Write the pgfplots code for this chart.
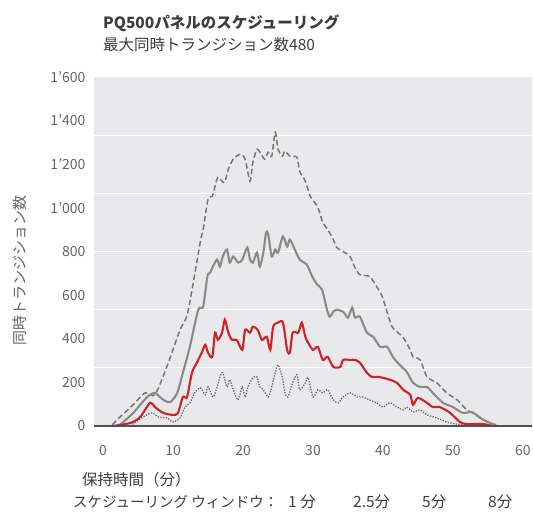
\documentclass[border=0pt]{standalone}
\usepackage{fontspec}
\usepackage{pgfplots}
\usepackage{pgfplotstable}
\pgfplotsset{compat=1.18}
\setmainfont{Noto Sans CJK JP}
\definecolor{bg}{RGB}{233,233,235}
\definecolor{txt}{RGB}{100,100,100}
\definecolor{ttl}{RGB}{60,60,60}
\definecolor{redl}{RGB}{204,34,40}
\definecolor{grayl}{RGB}{138,138,138}
\definecolor{dashl}{RGB}{118,118,118}
\definecolor{dotl}{RGB}{105,105,105}
\definecolor{axl}{RGB}{80,80,80}

\pgfplotstableread{
x y
1.3 5
2.4 41
4.3 97
6.0 152
7.4 143
9.1 271
11.0 441
12.1 520
13.9 845
14.3 901
15.0 1039
15.6 1053
16.0 1099
16.4 1140
17.0 1122
17.4 1117
17.9 1177
18.6 1223
19.6 1246
20.3 1223
21.0 1122
21.4 1209
22.0 1269
22.4 1255
23.1 1223
23.6 1255
24.1 1237
24.6 1347
25.0 1269
25.6 1237
26.0 1260
26.7 1237
27.7 1232
28.1 1168
28.9 1122
29.6 1053
29.9 1039
30.7 1002
31.4 933
32.1 901
32.9 855
33.4 818
34.3 800
35.3 777
36.0 726
36.7 694
38.1 685
39.1 639
39.9 593
40.6 520
41.3 455
42.0 432
42.9 405
43.9 349
44.3 317
45.3 303
46.3 225
47.7 198
49.1 152
50.6 120
52.0 74
53.4 51
54.9 18
56.3 5
}\dashdata

\pgfplotstableread{
x y
2.4 5
4.3 60
6.3 133
7.4 152
8.1 133
8.6 120
9.6 110
10.6 152
11.4 244
12.4 363
13.6 533
14.3 547
14.9 685
15.3 703
15.7 731
16.3 763
16.7 731
17.1 777
17.7 809
18.1 749
18.6 777
19.3 749
19.9 763
20.6 818
21.0 763
21.4 749
22.0 795
22.4 731
22.9 795
23.3 887
23.6 878
24.1 777
24.6 809
25.0 795
25.7 869
26.3 823
26.7 855
27.4 809
28.1 763
29.1 740
29.9 685
30.6 648
31.3 625
32.0 533
32.4 501
32.9 524
33.4 533
34.3 524
35.0 497
35.6 543
36.0 497
36.7 501
37.7 428
38.6 409
39.6 363
40.6 363
41.4 317
42.4 280
43.4 248
44.3 198
45.3 179
46.3 179
47.1 152
48.6 106
50.0 87
51.4 60
52.7 64
53.9 37
55.3 14
56.3 0
}\soliddata

\pgfplotstableread{
x y
1.4 0
3.9 14
5.3 41
6.7 106
7.4 87
8.6 60
10.0 51
10.7 60
11.4 133
12.0 133
12.7 244
13.4 290
14.1 336
14.6 372
15.0 336
15.6 317
16.0 428
16.4 395
17.0 428
17.4 487
17.9 428
18.4 395
19.1 395
19.9 349
20.3 441
21.0 428
21.4 455
22.1 441
22.7 395
23.4 409
23.9 349
24.3 455
25.0 474
25.7 474
26.3 349
26.7 336
27.1 428
27.9 428
28.4 474
28.9 409
29.3 382
30.0 349
30.7 363
31.4 303
32.1 317
32.9 271
33.9 271
34.3 303
35.3 303
36.0 303
36.7 290
37.7 244
38.4 225
39.3 225
40.0 221
41.0 212
42.0 198
42.9 166
43.9 143
44.3 97
45.0 129
46.3 106
47.1 87
48.1 87
49.6 60
51.0 18
52.0 9
54.3 9
55.6 0
}\reddata

\pgfplotstableread{
x y
3.9 0
5.7 41
7.0 60
7.9 41
9.1 37
10.0 18
11.0 37
11.7 87
12.4 106
13.1 152
13.9 175
14.6 143
15.0 179
15.7 133
16.3 179
16.7 225
17.1 244
17.7 179
18.1 212
18.6 166
19.3 120
19.9 179
20.3 133
20.7 179
21.4 221
22.0 225
22.4 179
22.9 166
23.6 133
24.1 179
24.6 244
25.0 280
25.6 225
26.0 152
26.4 133
27.1 198
27.7 235
28.1 166
28.9 198
29.3 221
30.0 133
30.7 166
31.4 152
32.1 166
32.9 120
33.6 106
34.3 133
35.3 152
36.3 133
37.1 133
38.1 120
39.1 106
40.0 87
41.0 106
42.0 87
42.9 74
43.4 87
44.3 64
45.3 74
46.3 51
47.7 37
49.1 18
50.6 9
52.0 5
53.4 0
}\dotdata

\begin{document}
\begin{tikzpicture}[x=1pt,y=1pt]
\useasboundingbox (0,0) rectangle (533,-516);
\node[anchor=west, text=ttl, font=\fontsize{15.5}{18}\selectfont\bfseries, inner sep=0] at (103,-23) {PQ500パネルのスケジューリング};
\node[anchor=west, text=ttl, font=\fontsize{15.5}{18}\selectfont, inner sep=0] at (103,-45) {最大同時トランジション数480};
\begin{axis}[
  at={(94pt,-426pt)}, anchor=south west,
  scale only axis, width=438pt, height=349pt,
  xmin=-1.3, xmax=61.3, ymin=0, ymax=1600,
  axis background/.style={fill=bg},
  axis line style={draw=none},
  major tick length=0pt,
  xtick={0,10,20,30,40,50,60},
  xticklabels={0,10,20,30,40,50,60},
  ytick={0,200,400,600,800,1000,1200,1400,1600},
  yticklabels={0,200,400,600,800,1’000,1’200,1’400,1’600},
  tick label style={font=\fontsize{14}{16}\selectfont, text=txt},
  xticklabel style={yshift=-16pt},
  yticklabel style={xshift=-5pt},
  extra y ticks={266.667,533.333,800,1066.667,1333.333},
  extra y tick labels={},
  extra y tick style={grid=major, major grid style={white, line width=1.3pt}},
  clip=false,
  every axis plot/.append style={smooth, tension=0.45},
]
\addplot[dashl, line width=1.5pt, dash pattern=on 5.5pt off 3pt] table[x=x,y=y] {\dashdata};
\addplot[grayl, line width=2.1pt] table[x=x,y=y] {\soliddata};
\addplot[dotl, line width=1.3pt, dash pattern=on 1.3pt off 1.4pt] table[x=x,y=y] {\dotdata};
\addplot[redl, line width=2.1pt] table[x=x,y=y] {\reddata};
\draw[axl, line width=1.3pt] (rel axis cs:0,0) -- (rel axis cs:1,0);
\end{axis}
\node[rotate=90, text=txt, font=\fontsize{15}{18}\selectfont] at (20,-270) {同時トランジション数};
\node[anchor=west, text=ttl, font=\fontsize{15.5}{18}\selectfont, inner sep=0] at (82,-480) {保持時間（分）};
\node[anchor=west, text=ttl, font=\fontsize{14.5}{18}\selectfont, inner sep=0] at (73,-502) {スケジューリング ウィンドウ：};
\node[anchor=west, text=ttl, font=\fontsize{15.5}{18}\selectfont, inner sep=0] at (288,-502) {1 分};
\node[anchor=west, text=ttl, font=\fontsize{15.5}{18}\selectfont, inner sep=0] at (353,-502) {2.5分};
\node[anchor=west, text=ttl, font=\fontsize{15.5}{18}\selectfont, inner sep=0] at (422,-502) {5分};
\node[anchor=west, text=ttl, font=\fontsize{15.5}{18}\selectfont, inner sep=0] at (488,-502) {8分};
\end{tikzpicture}
\end{document}
